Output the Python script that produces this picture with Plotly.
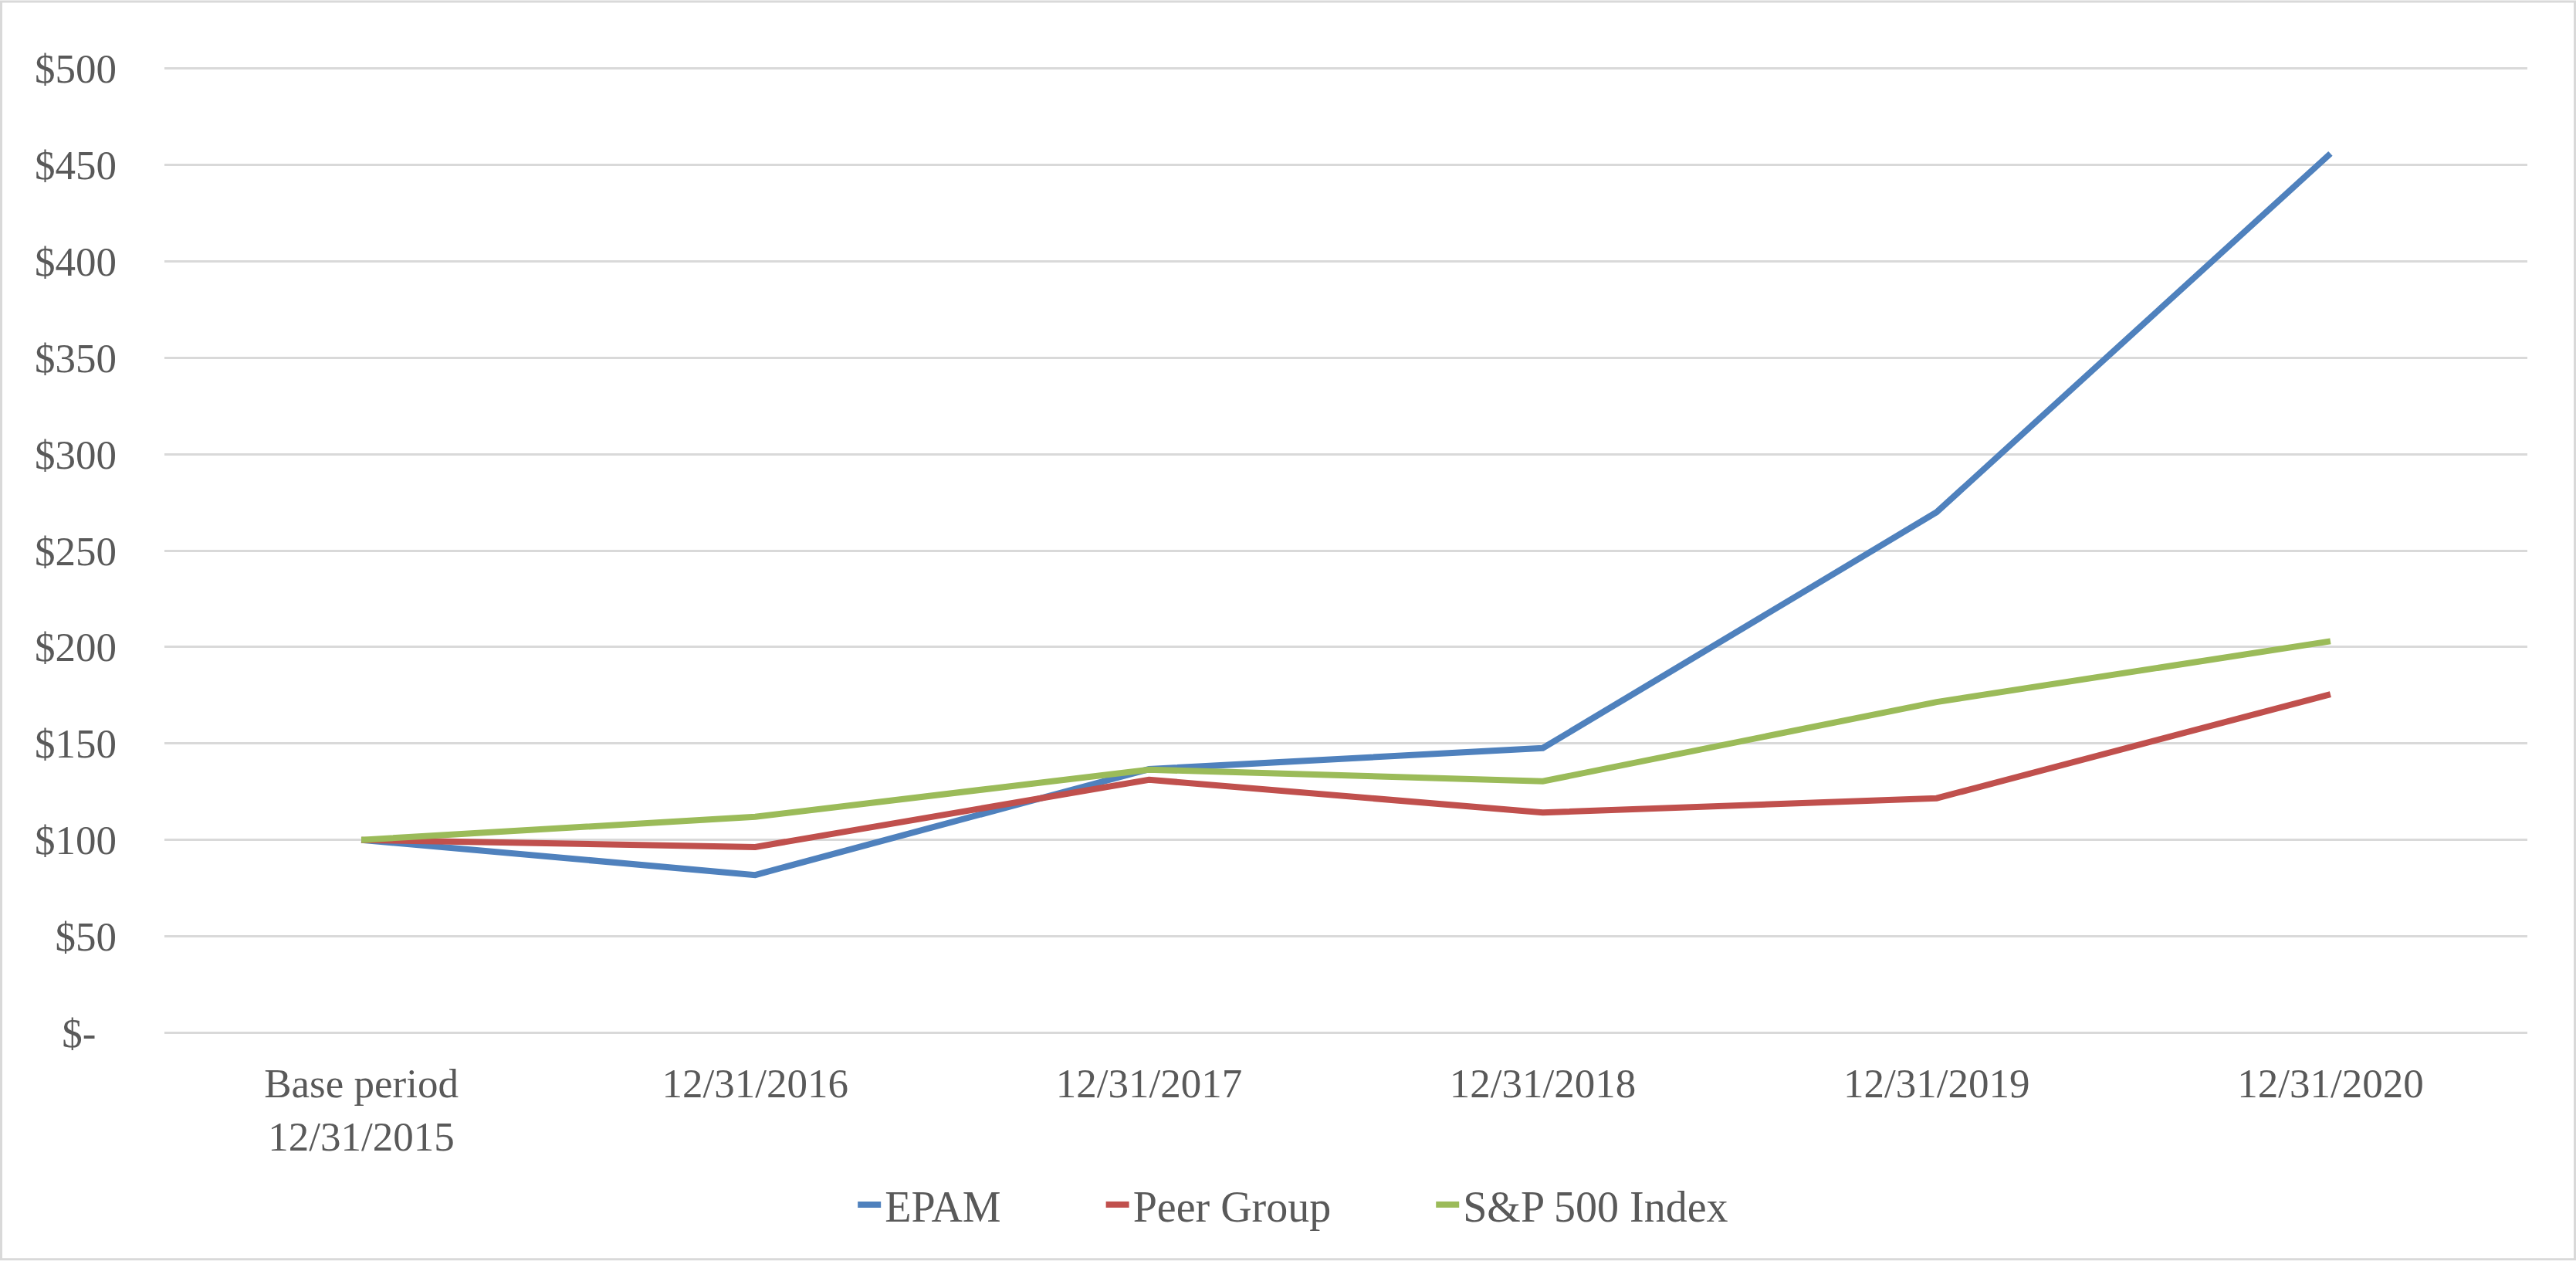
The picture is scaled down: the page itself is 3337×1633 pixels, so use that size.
import plotly.graph_objects as go

categories = ["Base period<br>12/31/2015", "12/31/2016", "12/31/2017",
              "12/31/2018", "12/31/2019", "12/31/2020"]
epam = [100, 81.8, 136.7, 147.6, 269.9, 455.8]
peer = [100, 96.3, 131.2, 114.2, 121.6, 175.5]
sp500 = [100, 112.0, 136.4, 130.4, 171.5, 203.0]
series_names = ["EPAM", "Peer Group", "S&P 500 Index"]
colors = ["#4F81BD", "#C0504D", "#9BBB59"]
y_ticks = [0, 50, 100, 150, 200, 250, 300, 350, 400, 450, 500]
y_ticklabels = ["$-\u00a0\u00a0", "$50", "$100", "$150", "$200", "$250",
                "$300", "$350", "$400", "$450", "$500"]

W, H = 3337, 1633
PAD = 0.6  # small range padding so the edge gridlines are drawn
PX_PER_UNIT = 2.5
L, R = 213, 63
T, B = 88 - PAD * PX_PER_UNIT, 295 - PAD * PX_PER_UNIT
FONT = "Liberation Serif, Times New Roman, serif"
GRAY = "#595959"

fig = go.Figure()
n = len(series_names)
for i, (name, vals, col) in enumerate(zip(series_names, [epam, peer, sp500], colors)):
    label = name + ("\u00a0" * 9 if i < n - 1 else "")
    fig.add_trace(go.Scatter(
        x=categories, y=vals, name=label, mode="lines",
        line=dict(color=col, width=8),
    ))

pw = W - L - R
ph = H - T - B
fig.add_shape(type="rect", xref="paper", yref="paper",
              x0=(1.5 - L) / pw, x1=(W - 1.5 - L) / pw,
              y0=-(B - 1.5) / ph, y1=1 + (T - 1.5) / ph,
              line=dict(color="#D9D9D9", width=3), fillcolor="rgba(0,0,0,0)",
              layer="below")

fig.update_layout(
    width=W, height=H,
    margin=dict(l=L, r=R, t=T, b=B, pad=0, autoexpand=False),
    paper_bgcolor="white", plot_bgcolor="white",
    font=dict(family=FONT, size=53, color=GRAY),
    showlegend=True,
    legend=dict(orientation="h", xref="container", x=0.502, xanchor="center",
                yref="container", y=(H - 1560) / H, yanchor="middle",
                font=dict(family=FONT, size=56, color=GRAY),
                itemwidth=30, tracegroupgap=0, bgcolor="rgba(0,0,0,0)"),
    xaxis=dict(type="category", showgrid=False, zeroline=False, showline=False,
               ticks="", tickfont=dict(family=FONT, size=53, color=GRAY),
               range=[-0.5, 5.5], ticklabelstandoff=28, fixedrange=True),
    yaxis=dict(range=[-PAD, 500 + PAD], tickvals=y_ticks, ticktext=y_ticklabels,
               showgrid=True, gridcolor="#D9D9D9", gridwidth=3,
               zeroline=False, showline=False, ticks="",
               tickfont=dict(family=FONT, size=53, color=GRAY),
               ticklabelstandoff=61, fixedrange=True),
)

fig.write_html("out.html", config={"displayModeBar": False},
               post_script="document.body.style.margin='0';")
